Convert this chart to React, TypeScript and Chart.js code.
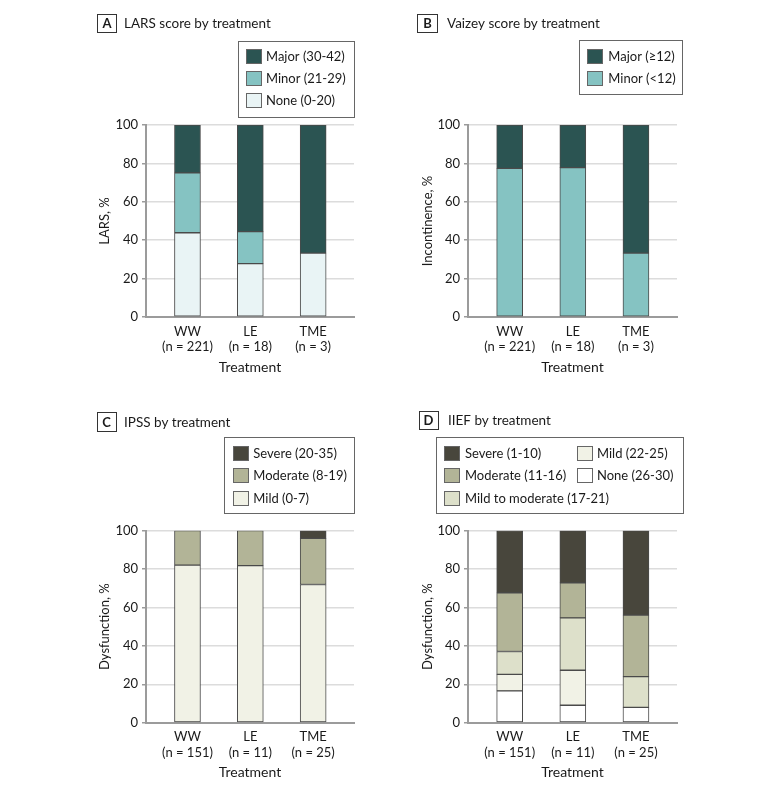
import React, { useEffect, useRef } from "react";
import { Chart, registerables } from "chart.js";

Chart.register(...registerables);

const FONT = "Lato, 'DejaVu Sans', sans-serif";

// ---------- data ----------
const treatments = ["WW", "LE", "TME"];

const larsN = [221, 18, 3];
const larsNone = [43.9, 27.8, 33.3];
const larsMinor = [31.2, 16.7, 0];
const larsMajor = [24.9, 55.5, 66.7];

const vaizeyN = [221, 18, 3];
const vaizeyMinor = [77.4, 77.8, 33.3];
const vaizeyMajor = [22.6, 22.2, 66.7];

const ipssN = [151, 11, 25];
const ipssMild = [82.1, 81.8, 72.0];
const ipssModerate = [17.9, 18.2, 24.0];
const ipssSevere = [0, 0, 4.0];

const iiefN = [151, 11, 25];
const iiefNone = [16.6, 9.1, 8.0];
const iiefMild = [8.6, 18.2, 0];
const iiefMildMod = [11.9, 27.3, 16.0];
const iiefModerate = [30.5, 18.2, 32.0];
const iiefSevere = [32.5, 27.2, 44.0];

// ---------- panel definitions ----------
type Series = { label: string; values: number[]; color: string };
type LegendCol = { swatchX: number; textX: number; labels: string[] };
type Panel = {
  letter: string;
  title: string;
  yTitle: string;
  n: number[];
  series: Series[];
  left: number;
  top: number;
  width: number;
  height: number;
  plotLeft: number;
  plotRight: number;
  plotTop: number;
  plotBottom: number;
  yTitleX: number;
  xTickPad: number;
  xTitleY: number;
  letterBox: { x: number; y: number; w: number; h: number };
  titleX: number;
  legendBox: { x: number; y: number; w: number; h: number };
  legendCols: LegendCol[];
  legendRows: number[];
};

const C_MAJOR = "#2b5452";
const C_MINOR = "#85c3c2";
const C_NONE_T = "#e9f4f5";
const C_SEVERE = "#48463c";
const C_MODERATE = "#b2b497";
const C_MILDMOD = "#dde0ca";
const C_MILD = "#f1f2e6";
const C_NONE_G = "#ffffff";

const panels: Panel[] = [
  {
    letter: "A",
    title: "LARS score by treatment",
    yTitle: "LARS, %",
    n: larsN,
    series: [
      { label: "None (0-20)", values: larsNone, color: C_NONE_T },
      { label: "Minor (21-29)", values: larsMinor, color: C_MINOR },
      { label: "Major (30-42)", values: larsMajor, color: C_MAJOR },
    ],
    left: 90, top: 0, width: 300, height: 395,
    plotLeft: 56, plotRight: 264, plotTop: 125, plotBottom: 317,
    yTitleX: 15, xTickPad: 6.9, xTitleY: 367,
    letterBox: { x: 7, y: 14, w: 19, h: 18 },
    titleX: 34,
    legendBox: { x: 148, y: 41, w: 116, h: 76 },
    legendCols: [{ swatchX: 156, textX: 176, labels: ["Major (30-42)", "Minor (21-29)", "None (0-20)"] }],
    legendRows: [56.3, 78.3, 100.3],
  },
  {
    letter: "B",
    title: "Vaizey score by treatment",
    yTitle: "Incontinence, %",
    n: vaizeyN,
    series: [
      { label: "Minor (<12)", values: vaizeyMinor, color: C_MINOR },
      { label: "Major (≥12)", values: vaizeyMajor, color: C_MAJOR },
    ],
    left: 410, top: 0, width: 300, height: 395,
    plotLeft: 58, plotRight: 267, plotTop: 125, plotBottom: 317,
    yTitleX: 18, xTickPad: 6.9, xTitleY: 367,
    letterBox: { x: 7, y: 14, w: 20, h: 18 },
    titleX: 37,
    legendBox: { x: 168.7, y: 40, w: 103.3, h: 54 },
    legendCols: [{ swatchX: 177.3, textX: 198.3, labels: ["Major (≥12)", "Minor (<12)"] }],
    legendRows: [56.5, 78.3],
  },
  {
    letter: "C",
    title: "IPSS by treatment",
    yTitle: "Dysfunction, %",
    n: ipssN,
    series: [
      { label: "Mild (0-7)", values: ipssMild, color: C_MILD },
      { label: "Moderate (8-19)", values: ipssModerate, color: C_MODERATE },
      { label: "Severe (20-35)", values: ipssSevere, color: C_SEVERE },
    ],
    left: 90, top: 400, width: 300, height: 391,
    plotLeft: 56, plotRight: 264, plotTop: 130.7, plotBottom: 322.7,
    yTitleX: 15, xTickPad: 6.5, xTitleY: 372,
    letterBox: { x: 6.5, y: 12, w: 19, h: 19 },
    titleX: 34,
    legendBox: { x: 134, y: 37, w: 130, h: 76 },
    legendCols: [{ swatchX: 142.7, textX: 163.3, labels: ["Severe (20-35)", "Moderate (8-19)", "Mild (0-7)"] }],
    legendRows: [53.3, 75.7, 98.3],
  },
  {
    letter: "D",
    title: "IIEF by treatment",
    yTitle: "Dysfunction, %",
    n: iiefN,
    series: [
      { label: "None (26-30)", values: iiefNone, color: C_NONE_G },
      { label: "Mild (22-25)", values: iiefMild, color: C_MILD },
      { label: "Mild to moderate (17-21)", values: iiefMildMod, color: C_MILDMOD },
      { label: "Moderate (11-16)", values: iiefModerate, color: C_MODERATE },
      { label: "Severe (1-10)", values: iiefSevere, color: C_SEVERE },
    ],
    left: 410, top: 400, width: 300, height: 391,
    plotLeft: 58, plotRight: 267, plotTop: 130.7, plotBottom: 322.7,
    yTitleX: 18, xTickPad: 6.5, xTitleY: 372,
    letterBox: { x: 8.5, y: 11, w: 19, h: 18 },
    titleX: 38,
    legendBox: { x: 25.7, y: 37, w: 247, h: 76 },
    legendCols: [
      { swatchX: 34, textX: 55, labels: ["Severe (1-10)", "Moderate (11-16)", "Mild to moderate (17-21)"] },
      { swatchX: 166.7, textX: 187, labels: ["Mild (22-25)", "None (26-30)"] },
    ],
    legendRows: [53, 75.7, 98],
  },
];

const TEXT = "#1a1a1a";
const AXIS = "#9b9b9b";
const GRID = "#dcdcdc";
const BAR_BORDER = "#4a4a4a";

function makeDecor(p: Panel) {
  return {
    id: "decor" + p.letter,
    afterDraw(chart: any) {
      const ctx: CanvasRenderingContext2D = chart.ctx;
      ctx.save();
      const lb = p.letterBox;
      ctx.strokeStyle = "#333";
      ctx.lineWidth = 1;
      ctx.strokeRect(Math.round(lb.x) + 0.5, Math.round(lb.y) + 0.5, Math.round(lb.w), Math.round(lb.h));
      ctx.fillStyle = TEXT;
      ctx.textBaseline = "middle";
      ctx.textAlign = "center";
      ctx.font = `bold 13px ${FONT}`;
      ctx.fillText(p.letter, lb.x + lb.w / 2 + 0.5, lb.y + lb.h / 2 + 1);
      ctx.textAlign = "left";
      ctx.font = `13.5px ${FONT}`;
      ctx.fillText(p.title, p.titleX, lb.y + lb.h / 2 + 1);

      const box = p.legendBox;
      ctx.strokeStyle = "#666";
      ctx.strokeRect(Math.round(box.x) + 0.5, Math.round(box.y) + 0.5, Math.round(box.w), Math.round(box.h));
      ctx.font = `13px ${FONT}`;
      p.legendCols.forEach((col) => {
        col.labels.forEach((label, r) => {
          const ds = chart.data.datasets.find((d: any) => d.label === label);
          const cy = p.legendRows[r];
          ctx.fillStyle = ds ? ds.backgroundColor : "#fff";
          const sx = Math.round(col.swatchX);
          const sy = Math.round(cy - 7.5);
          ctx.fillRect(sx, sy, 16, 15);
          ctx.strokeStyle = "#666";
          ctx.strokeRect(sx + 0.5, sy + 0.5, 15, 14);
          ctx.fillStyle = TEXT;
          ctx.fillText(label, col.textX, cy + 0.5);
        });
      });
      ctx.restore();
    },
  };
}

function PanelChart({ p }: { p: Panel }) {
  const ref = useRef<HTMLCanvasElement | null>(null);
  useEffect(() => {
    if (!ref.current) return;
    const xTitleSize = 14;
    const yTitleSize = 13;
    const chart = new Chart(ref.current, {
      type: "bar",
      data: {
        datasets: p.series.map((s) => ({
          label: s.label,
          data: s.values.map((v, i) => ({ x: i, y: v })),
          backgroundColor: s.color,
          borderColor: BAR_BORDER,
          borderWidth: 1,
          borderSkipped: false,
          barThickness: 26,
        })),
      },
      options: {
        responsive: false,
        animation: false,
        layout: {
          padding: { top: p.plotTop, right: p.width - p.plotRight, left: 0, bottom: 0 },
        },
        plugins: {
          legend: { display: false },
          tooltip: { enabled: false },
          title: { display: false },
        },
        scales: {
          x: {
            type: "linear",
            stacked: true,
            offset: false,
            bounds: "data",
            min: -0.66,
            max: 2.65,
            afterBuildTicks: (s: any) => {
              s.ticks = treatments.map((_, i) => ({ value: i }));
            },
            afterFit: (s: any) => {
              s.height = p.height - p.plotBottom;
            },
            grid: { display: false, drawTicks: false, offset: false },
            border: { display: true, color: AXIS, width: 2 },
            ticks: {
              callback: (v: any) => [treatments[v], `(n = ${p.n[v]})`],
              font: { family: FONT, size: 13 },
              color: TEXT,
              padding: p.xTickPad,
              maxRotation: 0,
              autoSkip: false,
              includeBounds: false,
            },
            title: {
              display: true,
              text: "Treatment",
              font: { family: FONT, size: xTitleSize },
              color: TEXT,
              padding: { top: 0, bottom: p.height - p.xTitleY - (xTitleSize * 1.2) / 2 },
            },
          },
          y: {
            stacked: true,
            min: 0,
            max: 100,
            afterFit: (s: any) => {
              s.width = p.plotLeft;
            },
            grid: { color: GRID, lineWidth: 1.5, tickColor: AXIS, tickLength: 4, drawTicks: true },
            border: { color: AXIS, width: 2 },
            ticks: {
              stepSize: 20,
              font: { family: FONT, size: 13 },
              color: TEXT,
              padding: 4,
            },
            title: {
              display: true,
              text: p.yTitle,
              font: { family: FONT, size: yTitleSize },
              color: TEXT,
              padding: { top: p.yTitleX - (yTitleSize * 1.2) / 2, bottom: 0 },
            },
          },
        },
      } as any,
      plugins: [makeDecor(p)],
    });
    return () => chart.destroy();
  }, [p]);
  return (
    <canvas
      ref={ref}
      width={p.width}
      height={p.height}
      style={{ position: "absolute", left: p.left, top: p.top, width: p.width, height: p.height }}
    />
  );
}

export default function App() {
  return (
    <div style={{ position: "absolute", left: 0, top: 0, width: 780, height: 791, background: "#fff", overflow: "hidden" }}>
      {panels.map((p) => (
        <PanelChart key={p.letter} p={p} />
      ))}
    </div>
  );
}
